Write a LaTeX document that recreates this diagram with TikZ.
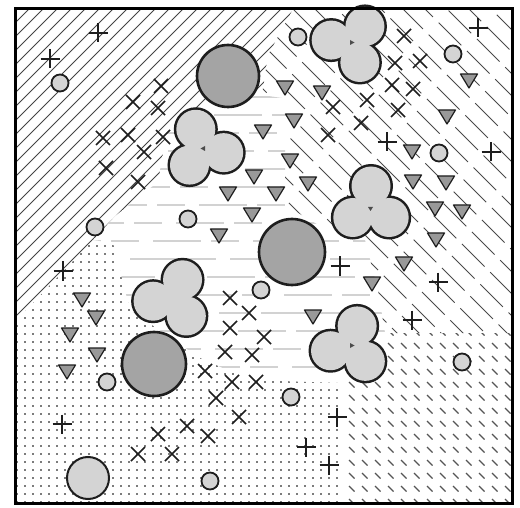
\documentclass[tikz,border=0pt]{standalone}
\definecolor{hatchA}{HTML}{444444}
\definecolor{hatchB}{HTML}{4a4a4a}
\definecolor{lineC}{HTML}{d2d2d2}
\definecolor{dotD}{HTML}{7c7c7c}
\definecolor{dashE}{HTML}{555555}
\definecolor{darkfill}{HTML}{a4a4a4}
\definecolor{lightfill}{HTML}{d4d4d4}
\definecolor{trifill}{HTML}{999999}
\definecolor{ink}{HTML}{1e1e1e}
\tikzset{
  hatchAline/.style={draw=hatchA, line width=1pt},
  hatchBline/.style={draw=hatchB, line width=1pt},
  lineCstyle/.style={draw=lineC, line width=1.3pt},
  dotDstyle/.style={draw=dotD, line width=1.6pt, dash pattern=on 1.6pt off 6.4pt},
  dashEstyle/.style={draw=dashE, line width=1.3pt},
  bigdisk/.style={fill=darkfill, draw=ink, line width=2.6pt},
  smalldisk/.style={fill=lightfill, draw=ink, line width=1.8pt},
  trimark/.style={fill=trifill, draw=ink, line width=1.2pt, line join=round},
  xmark/.style={draw=ink, line width=1.6pt},
  plusmark/.style={draw=ink, line width=1.5pt},
  lobeline/.style={draw=ink, line width=5pt},
  lobefill/.style={fill=lightfill},
  centermark/.style={fill=gray!60!black},
  frame/.style={draw=black, line width=3pt}
}
\newcommand\mytrefoil[3]{%
  \foreach \a in {0,120,240}
    \draw[lobeline] ({#1+21*cos(#3+\a)},{#2-21*sin(#3+\a)}) circle[radius=19.5pt];
  \foreach \a in {0,120,240}
    \fill[lobefill] ({#1+21*cos(#3+\a)},{#2-21*sin(#3+\a)}) circle[radius=19.5pt];
  \fill[lobefill] (#1,#2) circle[radius=10pt];
}
\begin{document}
\begin{tikzpicture}[x=1pt,y=-1pt]
\useasboundingbox (0,0) rectangle (520,508);
\fill[white] (0,0) rectangle (520,508);

% Region A: solid "/" hatch
\begin{scope}
\clip (15,9) -- (293,9) -- (268,55) -- (262,95) -- (205,103) -- (168,125) -- (158,182) -- (115,216) -- (93,240) -- (15,322) -- cycle;
\foreach \c in {10,24,...,360} \draw[hatchAline] (\c,0) -- ({\c-400},400);
\end{scope}

% Region B: long dashed "\" lines
\begin{scope}
\clip (293,9) -- (512,9) -- (512,333) -- (385,333) -- (378,290) -- (365,240) -- (330,232) -- (285,205) -- (285,140) -- (295,100) -- (262,95) -- (268,55) -- cycle;
\foreach \c [count=\i, evaluate=\i as \ph using {mod(\i*17,40)}] in {-90,-68,...,520}
  \draw[hatchBline, dash pattern=on 32pt off 8pt, dash phase=\ph pt] (\c,0) -- ({\c+420},420);
\end{scope}

% Region C: light horizontal dashed lines
\begin{scope}
\clip (262,95) -- (295,100) -- (285,140) -- (285,205) -- (330,232) -- (365,240) -- (378,290) -- (385,333) -- (343,383) -- (250,380) -- (200,358) -- (130,310) -- (113,243) -- (93,240) -- (115,216) -- (158,182) -- (168,125) -- (205,103) -- cycle;
\foreach \y [count=\i, evaluate=\i as \ph using {mod(\i*23,100)}] in {97,115,...,390}
  \draw[lineCstyle, dash pattern=on 48pt off 10pt on 28pt off 14pt, dash phase=\ph pt] (60,\y) -- (400,\y);
\end{scope}

% Region D: dots
\begin{scope}
\clip (15,322) -- (93,240) -- (113,243) -- (130,310) -- (200,358) -- (250,380) -- (343,383) -- (343,503) -- (15,503) -- cycle;
\foreach \y in {238,246,...,502} \draw[dotDstyle] (16,\y) -- (345,\y);
\end{scope}

% Region E: short "\" dashes
\begin{scope}
\clip (343,383) -- (385,333) -- (512,333) -- (512,503) -- (343,503) -- cycle;
\foreach \x in {336,349,...,512}
  \foreach \y in {330,343,...,503}
    \draw[dashEstyle] (\x,\y) -- ++(5.5,5.5);
\end{scope}

% big dark disks
\foreach \x/\y/\r in {228/76/31, 292/252/33, 154/364/32}
  \draw[bigdisk] (\x,\y) circle[radius=\r pt];

% large light disk
\draw[smalldisk, line width=2pt] (88,478) circle[radius=21pt];

% small light disks
\foreach \x/\y in {60/83, 298/37, 453/54, 439/153, 95/227, 188/219, 261/290, 107/382, 291/397, 462/362, 210/481}
  \draw[smalldisk] (\x,\y) circle[radius=8.5pt];

% trefoils
\mytrefoil{352}{43}{52}
\mytrefoil{203}{149}{-10}
\mytrefoil{371}{207}{90}
\mytrefoil{174}{299}{66}
\mytrefoil{351}{346}{73}

% tiny centre marks
\fill[centermark] (350,40) -- (350,45) -- (354.5,42.5) -- cycle;
\fill[centermark] (205,146) -- (205,151) -- (200.5,148.5) -- cycle;
\fill[centermark] (368,207) -- (373,207) -- (370.5,211) -- cycle;
\fill[centermark] (350,343) -- (350,348) -- (354.5,345.5) -- cycle;

% inverted triangles
\foreach \x/\y in {285/87, 322/92, 294/120, 263/131, 469/80, 447/116, 412/151, 290/160, 254/176, 308/183, 413/181, 446/182, 228/193, 276/193, 435/208, 462/211, 252/214, 219/235, 436/239, 404/263, 372/283, 313/316, 82/299, 96/317, 70/334, 97/354, 67/371}
  \draw[trimark] ({\x-8.5},{\y-6}) -- ({\x+8.5},{\y-6}) -- (\x,{\y+8}) -- cycle;

% x marks
\foreach \x/\y in {161/86, 133/102, 158/108, 103/138, 128/135, 163/137, 144/152, 106/168, 138/182,
  404/36, 395/63, 420/61, 392/85, 413/89, 367/100, 333/107, 398/110, 361/123, 328/135,
  230/298, 249/313, 230/328, 264/337, 225/352, 252/355, 205/371, 232/382, 256/382, 216/398, 239/417, 187/426, 158/434, 208/436, 138/454, 172/454}
  \draw[xmark] ({\x-7},{\y-7}) -- ({\x+7},{\y+7}) ({\x-7},{\y+7}) -- ({\x+7},{\y-7});

% plus marks
\foreach \x/\y in {98/33, 50/59, 478/28, 387/142, 491/152, 63/271, 62/424, 340/266, 438/282, 412/320, 337/417, 306/447, 329/465}
  \draw[plusmark] ({\x-9.5},\y) -- ({\x+9.5},\y) (\x,{\y-9.5}) -- (\x,{\y+9.5});

% frame
\draw[frame] (15,9) rectangle (512,503);
\end{tikzpicture}
\end{document}
